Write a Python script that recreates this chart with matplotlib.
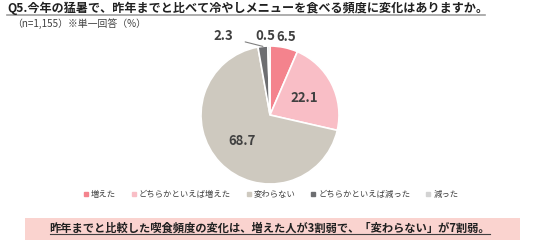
import numpy as np
import matplotlib.pyplot as plt
from matplotlib.lines import Line2D
from matplotlib.patches import Rectangle

plt.rcParams['font.family'] = ['Noto Sans CJK JP', 'DejaVu Sans']

labels = ["増えた", "どちらかといえば増えた", "変わらない", "どちらかといえば減った", "減った"]
values = [6.5, 22.1, 68.7, 2.3, 0.5]
colors = ["#F4838D", "#F9BEC6", "#CEC9BF", "#6D6E71", "#D3D3D3"]

title = "Q5.今年の猛暑で、昨年までと比べて冷やしメニューを食べる頻度に変化はありますか。"
subtitle = "（n=1,155）※単一回答（%）"
summary = "昨年までと比較した喫食頻度の変化は、増えた人が3割弱で、「変わらない」が7割弱。"

W, H = 536, 244
fig = plt.figure(figsize=(W / 100, H / 100), dpi=100)

# pie axes: center (270,115), radius 69 px
cx, cy, r = 270, 115, 69
ax = fig.add_axes([(cx - r) / W, (H - cy - r) / H, 2 * r / W, 2 * r / H])
wedges, _ = ax.pie(values, colors=colors, startangle=90, counterclock=False,
                   radius=1, wedgeprops=dict(edgecolor="white", linewidth=1.2))
ax.set_xlim(-1, 1)
ax.set_ylim(-1, 1)
ax.set_aspect("equal")
ax.axis("off")

txt = dict(ha="center", va="center", fontsize=9.5, fontweight="bold",
           color="#404040", clip_on=False)
for i, (w, v) in enumerate(zip(wedges, values)):
    ang = np.deg2rad((w.theta1 + w.theta2) / 2)
    s = f"{v:.1f}"
    if v > 10:
        rr = 0.55
        ax.text(rr * np.cos(ang), rr * np.sin(ang), s, **txt)
    elif i == 0:
        ax.text(1.15 * np.cos(ang), 1.15 * np.sin(ang), s, **txt)
    elif i == 4:
        ax.text(-0.06, 1.14, s, **txt)
    else:
        x0, y0 = np.cos(ang), np.sin(ang)
        ax.annotate(s, xy=(x0, y0), xytext=(-0.68, 1.14),
                    annotation_clip=False,
                    arrowprops=dict(arrowstyle="-", color="#808080", lw=0.8,
                                    shrinkA=7, shrinkB=0),
                    **txt)

# title with underline
fig.text(7 / W, 1 - 8 / H, title, fontsize=8.7, fontweight="bold",
         color="#202020", ha="left", va="center")
fig.add_artist(Line2D([7 / W, 485 / W], [1 - 14.5 / H, 1 - 14.5 / H],
                      color="#A0A0A0", lw=1.2, transform=fig.transFigure))
fig.text(12 / W, 1 - 24 / H, subtitle, fontsize=7.1, color="#404040",
         ha="left", va="center")

# legend
handles = [Line2D([], [], marker="s", linestyle="none", markersize=3.5,
                  markerfacecolor=c, markeredgecolor=c) for c in colors]
fig.legend(handles, labels, loc="center", bbox_to_anchor=(271 / W, 1 - 194 / H),
           ncol=5, frameon=False, fontsize=6.0, handlelength=0.6,
           handletextpad=0.35, columnspacing=1.8, labelcolor="#404040")

# summary box
fig.add_artist(Rectangle((25 / W, 1 - 240 / H), 495 / W, 22 / H,
                         facecolor="#FAD3CF", edgecolor="none",
                         transform=fig.transFigure))
fig.text(270 / W, 1 - 228.5 / H, summary, fontsize=8.1, fontweight="bold",
         color="#202020", ha="center", va="center")
fig.add_artist(Line2D([50 / W, 490 / W], [1 - 234 / H, 1 - 234 / H],
                      color="#404040", lw=0.8, transform=fig.transFigure))

fig.savefig("out.png", dpi=100)
